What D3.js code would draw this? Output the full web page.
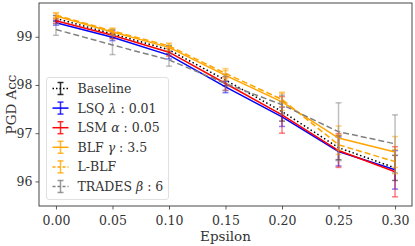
<!DOCTYPE html>
<html>
<head>
<meta charset="utf-8">
<script src="https://cdn.jsdelivr.net/npm/d3@7"></script>
<style>
  body { margin: 0; background: #fff; }
  text { font-family: "DejaVu Serif", "Liberation Serif", serif; }
</style>
</head>
<body>
<div id="chart"></div>
<script>
  const width = 415, height = 246;
  const margin = { top: 3, right: 3, bottom: 40, left: 39 };

  // eps values and tick labels
  const epsilons = [0.00, 0.05, 0.10, 0.15, 0.20, 0.25, 0.30];
  const xTicks = [0.00, 0.05, 0.10, 0.15, 0.20, 0.25, 0.30];
  const yTicks = [96, 97, 98, 99];

  // series means (PGD accuracy)
  const baseline = [99.38, 99.06, 98.73, 98.10, 97.45, 96.70, 96.28];
  const lsq      = [99.29, 98.99, 98.62, 97.96, 97.34, 96.62, 96.24];
  const lsm      = [99.33, 99.03, 98.68, 98.03, 97.38, 96.64, 96.20];
  const blf      = [99.43, 99.10, 98.78, 98.20, 97.65, 96.90, 96.61];
  const lblf     = [99.45, 99.12, 98.81, 98.24, 97.70, 96.76, 96.41];
  const trades   = [99.15, 98.83, 98.52, 98.03, 97.59, 97.03, 96.78];

  // error bar half widths
  const baselineErr = [0.06, 0.08, 0.08, 0.12, 0.20, 0.25, 0.26];
  const lsqErr      = [0.05, 0.07, 0.08, 0.12, 0.20, 0.30, 0.40];
  const lsmErr      = [0.05, 0.07, 0.08, 0.14, 0.38, 0.35, 0.52];
  const blfErr      = [0.06, 0.07, 0.07, 0.10, 0.18, 0.25, 0.32];
  const lblfErr     = [0.05, 0.06, 0.06, 0.10, 0.15, 0.20, 0.25];
  const tradesErr   = [0.12, 0.20, 0.13, 0.15, 0.20, 0.60, 0.60];

  const series = [
    { name: "Baseline", vals: baseline, err: baselineErr, color: "#000000", dash: "1.5,2.5" },
    { name: "LSQ", sym: "λ", val: "0.01", vals: lsq, err: lsqErr, color: "#0000ff", dash: null },
    { name: "LSM", sym: "α", val: "0.05", vals: lsm, err: lsmErr, color: "#ff0000", dash: null },
    { name: "BLF", sym: "γ", val: "3.5", vals: blf, err: blfErr, color: "#ffa500", dash: null },
    { name: "L-BLF", vals: lblf, err: lblfErr, color: "#ffa500", dash: "6,3" },
    { name: "TRADES", sym: "β", val: "6", vals: trades, err: tradesErr, color: "#808080", dash: "6,3" }
  ];

  const svg = d3.select('#chart').append('svg')
    .attr('width', width).attr('height', height);

  const x = d3.scaleLinear().domain([-0.015, 0.315])
    .range([margin.left, width - margin.right]);
  const y = d3.scaleLinear().domain([95.49, 99.70])
    .range([height - margin.bottom, margin.top]);

  const plot = svg.append('g');

  series.forEach(s => {
    const g = plot.append('g');
    // error bars
    s.vals.forEach((v, i) => {
      const cx = x(epsilons[i]);
      const y0 = y(v - s.err[i]), y1 = y(v + s.err[i]);
      g.append('line').attr('x1', cx).attr('x2', cx).attr('y1', y0).attr('y2', y1)
        .attr('stroke', s.color).attr('stroke-width', 1.5).attr('opacity', 0.5);
      [y0, y1].forEach(cy => g.append('line')
        .attr('x1', cx - 3).attr('x2', cx + 3).attr('y1', cy).attr('y2', cy)
        .attr('stroke', s.color).attr('stroke-width', 1.5).attr('opacity', 0.5));
    });
    const line = d3.line().x((d, i) => x(epsilons[i])).y(d => y(d));
    g.append('path').datum(s.vals).attr('d', line)
      .attr('fill', 'none').attr('stroke', s.color).attr('stroke-width', 1.5)
      .attr('stroke-dasharray', s.dash);
  });

  // axes
  const xAxis = d3.axisBottom(x).tickValues(xTicks).tickFormat(d3.format('.2f')).tickSizeOuter(0).tickSize(3.5);
  const yAxis = d3.axisLeft(y).tickValues(yTicks).tickFormat(d3.format('d')).tickSizeOuter(0).tickSize(3.5);
  const gx = svg.append('g').attr('transform', `translate(0,${height - margin.bottom})`).call(xAxis);
  const gy = svg.append('g').attr('transform', `translate(${margin.left},0)`).call(yAxis);
  [gx, gy].forEach(g => {
    g.select('.domain').remove();
    g.selectAll('text').attr('font-size', 12.5).attr('fill', '#333')
      .style('font-family', '"DejaVu Serif", serif');
    g.selectAll('line').attr('stroke', '#333').attr('stroke-width', 0.8);
  });
  gx.selectAll('text').attr('dy', '1.0em');

  svg.append('rect')
    .attr('x', margin.left).attr('y', margin.top)
    .attr('width', width - margin.left - margin.right)
    .attr('height', height - margin.top - margin.bottom)
    .attr('fill', 'none').attr('stroke', '#333').attr('stroke-width', 0.9);

  svg.append('text').attr('x', (margin.left + width - margin.right) / 2).attr('y', 241)
    .attr('text-anchor', 'middle').attr('font-size', 13.5).attr('fill', '#333').text('Epsilon');
  svg.append('text')
    .attr('transform', `translate(16,${(margin.top + height - margin.bottom) / 2}) rotate(-90)`)
    .attr('text-anchor', 'middle').attr('font-size', 13.5).attr('fill', '#333').text('PGD Acc');

  // legend
  const lg = svg.append('g').attr('transform', 'translate(46.5,77.5)');
  lg.append('rect').attr('width', 122).attr('height', 122).attr('rx', 2.5)
    .attr('fill', '#fff').attr('fill-opacity', 0.85)
    .attr('stroke', '#d8d8d8').attr('stroke-width', 0.8);
  series.forEach((s, i) => {
    const row = lg.append('g').attr('transform', `translate(0,${11 + i * 19.6})`);
    row.append('line').attr('x1', 6).attr('x2', 22).attr('y1', 0).attr('y2', 0)
      .attr('stroke', s.color).attr('stroke-width', 1.5).attr('stroke-dasharray', s.dash ? (s.dash === '6,3' ? '3,2' : '1.5,2') : null);
    row.append('line').attr('x1', 14).attr('x2', 14).attr('y1', -6).attr('y2', 6)
      .attr('stroke', s.color).attr('stroke-width', 1.5).attr('opacity', 0.8);
    [-6, 6].forEach(cy => row.append('line').attr('x1', 11).attr('x2', 17).attr('y1', cy).attr('y2', cy)
      .attr('stroke', s.color).attr('stroke-width', 1.5).attr('opacity', 0.8));
    const t = row.append('text').attr('x', 31).attr('y', 4.5).attr('font-size', 12.5).attr('fill', '#333');
    t.append('tspan').text(s.name);
    if (s.sym) {
      t.append('tspan').attr('font-style', 'italic').text(' ' + s.sym);
      t.append('tspan').text(' : ' + s.val);
    }
  });
</script>
</body>
</html>
